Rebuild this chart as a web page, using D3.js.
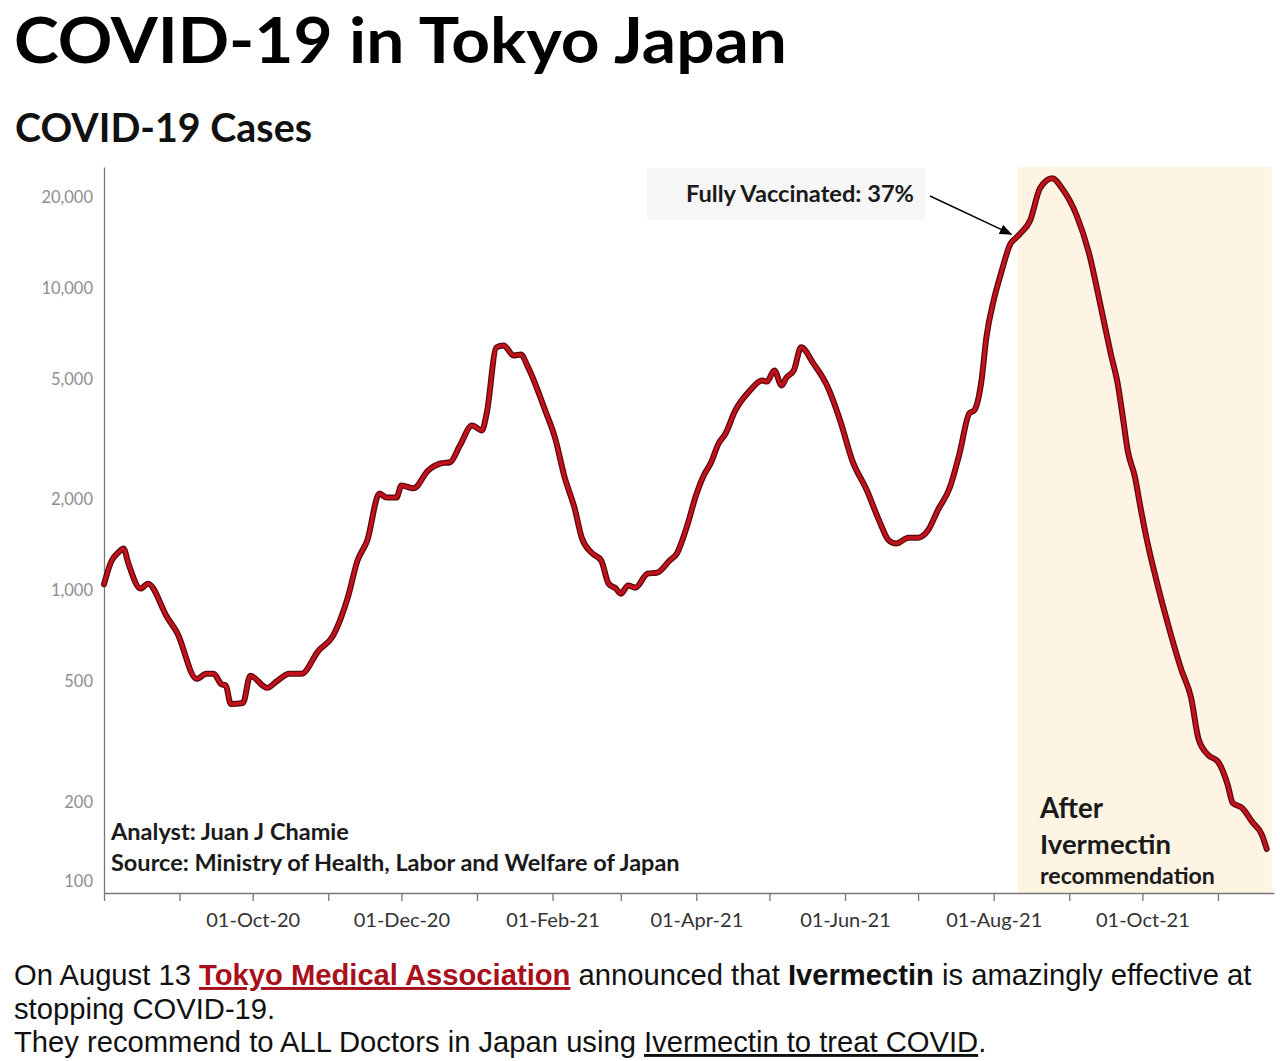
<!DOCTYPE html>
<html>
<head>
<meta charset="utf-8">
<title>COVID-19 in Tokyo Japan</title>
<script src="https://cdn.jsdelivr.net/npm/d3@7"></script>
<style>
    body { margin: 0; background: #fff; }
    svg { display: block; }
    .lato { font-family: Lato, "Noto Sans", sans-serif; }
    .arial { font-family: "Liberation Sans", Arial, sans-serif; }
</style>
</head>
<body>
<svg id="chart" width="1280" height="1061"></svg>
<script>
// 7-day average of new cases
var dates = [
    "2020-08-01","2020-08-04","2020-08-07","2020-08-09","2020-08-11","2020-08-16","2020-08-19","2020-08-27",
    "2020-08-31","2020-09-08","2020-09-12","2020-09-15","2020-09-18","2020-09-20","2020-09-22","2020-09-27",
    "2020-09-30","2020-10-07","2020-10-11","2020-10-16","2020-10-21","2020-10-28","2020-11-03","2020-11-09",
    "2020-11-13","2020-11-17","2020-11-22","2020-11-25","2020-11-29","2020-12-01","2020-12-06","2020-12-12",
    "2020-12-17","2020-12-21","2020-12-25","2020-12-30","2021-01-03","2021-01-05","2021-01-09","2021-01-12",
    "2021-01-16","2021-01-19","2021-01-22","2021-01-29","2021-02-02","2021-02-06","2021-02-10","2021-02-13",
    "2021-02-17","2021-02-21","2021-02-24","2021-02-27","2021-03-01","2021-03-04","2021-03-07","2021-03-12",
    "2021-03-16","2021-03-21","2021-03-24","2021-03-28","2021-04-01","2021-04-04","2021-04-07","2021-04-10",
    "2021-04-13","2021-04-17","2021-04-23","2021-04-28","2021-04-30","2021-05-03","2021-05-06","2021-05-08",
    "2021-05-11","2021-05-14","2021-05-19","2021-05-25","2021-05-30","2021-06-04","2021-06-10","2021-06-15",
    "2021-06-19","2021-06-22","2021-06-27","2021-07-01","2021-07-05","2021-07-09","2021-07-14","2021-07-18",
    "2021-07-22","2021-07-24","2021-07-27","2021-07-29","2021-08-01","2021-08-04","2021-08-08","2021-08-10",
    "2021-08-12","2021-08-16","2021-08-20","2021-08-25","2021-08-29","2021-09-04","2021-09-09","2021-09-14",
    "2021-09-18","2021-09-21","2021-09-23","2021-09-25","2021-09-28","2021-09-30","2021-10-03","2021-10-07",
    "2021-10-11","2021-10-17","2021-10-21","2021-10-24","2021-10-28","2021-11-01","2021-11-05","2021-11-07",
    "2021-11-11","2021-11-15","2021-11-19","2021-11-21"
];
var cases = [
    1050, 1250, 1340, 1380, 1230, 1016, 1055, 814,
    726, 511, 531, 531, 492, 485, 422, 425,
    523, 477, 503, 531, 531, 633, 710, 948,
    1257, 1465, 2095, 2032, 2032, 2228, 2180, 2497,
    2634, 2660, 3020, 3520, 3388, 3856, 6380, 6475,
    5998, 6040, 5475, 3945, 3212, 2367, 1883, 1497,
    1336, 1257, 1055, 1016, 977, 1040, 1023, 1138,
    1148, 1257, 1326, 1617, 2080, 2400, 2650, 3050,
    3311, 3945, 4592, 4955, 4917, 5350, 4774, 5074,
    5350, 6380, 5645, 4700, 3655, 2693, 2144, 1705,
    1465, 1431, 1497, 1497, 1580, 1841, 2193, 2844,
    3856, 3945, 4955, 6886, 9120, 11210, 14090, 14650,
    15210, 16800, 21430, 23130, 21430, 17450, 13160, 8650,
    6090, 4774, 3740, 2900, 2367, 1927, 1452, 1063,
    801, 547, 442, 324, 286, 272, 228, 199,
    191, 172, 156, 140
];

var xDomain = ["2020-08-01", "2021-11-24"];
var shadeDates = ["2021-08-11", "2021-11-23"];   // after Ivermectin recommendation
var yTicks = [100, 200, 500, 1000, 2000, 5000, 10000, 20000];
var xLabelDates = ["2020-10-01","2020-12-01","2021-02-01","2021-04-01","2021-06-01","2021-08-01","2021-10-01"];
var arrowDate = "2021-08-09";

var parse = d3.timeParse("%Y-%m-%d");
var data = dates.map(function(d, i) { return {date: parse(d), value: cases[i]}; });

var svg = d3.select("#chart");
var plotL = 104, plotR = 1274, plotT = 167, plotB = 893;

var x = d3.scaleTime().domain(xDomain.map(parse)).range([plotL, plotR]);
var y = d3.scaleLog().domain([100, 25200]).range([plotB, plotT]);

// fit a text element to a given width by changing its font size
function fit(sel, w) {
    var fs = parseFloat(sel.attr("font-size"));
    var len = sel.node().getComputedTextLength();
    sel.attr("font-size", (fs * w / len).toFixed(2));
    return sel;
}

// titles
svg.append("text").attr("class", "lato").attr("x", 14).attr("y", 63)
    .attr("font-size", 63).attr("font-weight", 700).attr("fill", "#000")
    .attr("textLength", 773).attr("lengthAdjust", "spacingAndGlyphs")
    .text("COVID-19 in Tokyo Japan");
svg.append("text").attr("class", "lato").attr("x", 15).attr("y", 142)
    .attr("font-size", 40).attr("font-weight", 700).attr("fill", "#111")
    .attr("textLength", 297).attr("lengthAdjust", "spacingAndGlyphs")
    .text("COVID-19 Cases");

// shaded period
svg.append("rect")
    .attr("x", x(parse(shadeDates[0])))
    .attr("y", plotT)
    .attr("width", x(parse(shadeDates[1])) - x(parse(shadeDates[0])))
    .attr("height", plotB - plotT)
    .attr("fill", "#fdf4e3");

// y axis
var yAxis = svg.append("g")
    .attr("transform", "translate(" + plotL + ",0)")
    .call(d3.axisLeft(y).tickValues(yTicks).tickFormat(d3.format(",")).tickSize(0).tickSizeOuter(0).tickPadding(11));
yAxis.select(".domain").attr("stroke", "#777").attr("stroke-width", 1.3);
yAxis.selectAll("text")
    .attr("class", "lato")
    .attr("font-size", 16.5)
    .attr("fill", "#8e8e8e")
    .attr("dy", function(d) { return d === 100 ? "-0.37em" : "0.32em"; });

// x axis
var labelSet = xLabelDates.map(function(d) { return +parse(d); });
var fmt = d3.timeFormat("%d-%b-%y");
var xAxis = svg.append("g")
    .attr("transform", "translate(0," + plotB + ")")
    .call(d3.axisBottom(x).ticks(d3.timeMonth.every(1))
        .tickFormat(function(d) { return labelSet.indexOf(+d) >= 0 ? fmt(d) : ""; })
        .tickSize(8).tickSizeOuter(0).tickPadding(12));
xAxis.select(".domain").attr("stroke", "#777").attr("stroke-width", 1.3);
xAxis.selectAll(".tick line").attr("stroke", "#777").attr("stroke-width", 1.3);
xAxis.selectAll("text")
    .attr("class", "lato")
    .attr("font-size", 20)
    .attr("fill", "#333");

// the case line
var line = d3.line()
    .curve(d3.curveMonotoneX)
    .x(function(d) { return x(d.date); })
    .y(function(d) { return y(d.value); });

svg.append("path").datum(data)
    .attr("d", line)
    .attr("fill", "none")
    .attr("stroke", "#5c0a0e")
    .attr("stroke-width", 6)
    .attr("stroke-linejoin", "round")
    .attr("stroke-linecap", "round");
svg.append("path").datum(data)
    .attr("d", line)
    .attr("fill", "none")
    .attr("stroke", "#c4121c")
    .attr("stroke-width", 3.4)
    .attr("stroke-linejoin", "round")
    .attr("stroke-linecap", "round");

// vaccination annotation
svg.append("rect")
    .attr("x", 647).attr("y", 168).attr("width", 278).attr("height", 52)
    .attr("fill", "#f6f6f6");
fit(svg.append("text").attr("class", "lato").attr("x", 686).attr("y", 202)
    .attr("font-size", 20).attr("font-weight", 700).attr("fill", "#1a1a1a")
    .text("Fully Vaccinated: 37%"), 228);

svg.append("defs").append("marker")
    .attr("id", "arrow")
    .attr("viewBox", "0 0 10 10")
    .attr("refX", 9).attr("refY", 5)
    .attr("markerWidth", 9).attr("markerHeight", 9)
    .attr("orient", "auto")
    .append("path").attr("d", "M0,1 L10,5 L0,9 Z").attr("fill", "#000");

var ad = parse(arrowDate);
var ay = y(data.find(function(d) { return +d.date >= +ad; }).value) - 4;
svg.append("line")
    .attr("x1", 930).attr("y1", 196)
    .attr("x2", x(ad) - 2).attr("y2", ay)
    .attr("stroke", "#000").attr("stroke-width", 1.4)
    .attr("marker-end", "url(#arrow)");

// notes inside the plot
fit(svg.append("text").attr("class", "lato").attr("x", 111).attr("y", 840)
    .attr("font-size", 20).attr("font-weight", 700).attr("fill", "#1a1a1a")
    .text("Analyst: Juan J Chamie"), 238);
fit(svg.append("text").attr("class", "lato").attr("x", 111).attr("y", 871)
    .attr("font-size", 20).attr("font-weight", 700).attr("fill", "#1a1a1a")
    .text("Source: Ministry of Health, Labor and Welfare of Japan"), 569);

fit(svg.append("text").attr("class", "lato").attr("x", 1040).attr("y", 818)
    .attr("font-size", 26).attr("font-weight", 700).attr("fill", "#1a1a1a")
    .text("After"), 63);
fit(svg.append("text").attr("class", "lato").attr("x", 1040).attr("y", 854)
    .attr("font-size", 26).attr("font-weight", 700).attr("fill", "#1a1a1a")
    .text("Ivermectin"), 131);
fit(svg.append("text").attr("class", "lato").attr("x", 1040).attr("y", 884)
    .attr("font-size", 20).attr("font-weight", 700).attr("fill", "#1a1a1a")
    .text("recommendation"), 175);

// paragraph under the chart
var para = svg.append("g").attr("class", "arial").attr("fill", "#111");
var l1 = para.append("text").attr("x", 14).attr("y", 985).attr("font-size", 26);
l1.append("tspan").text("On August 13 ");
l1.append("tspan").attr("font-weight", 700).attr("fill", "#a8101c")
    .attr("text-decoration", "underline").text("Tokyo Medical Association");
l1.append("tspan").text(" announced that ");
l1.append("tspan").attr("font-weight", 700).text("Ivermectin");
l1.append("tspan").text(" is amazingly effective at");

var fs = 26 * 1238 / l1.node().getComputedTextLength();
l1.attr("font-size", fs.toFixed(2));

para.append("text").attr("x", 14).attr("y", 1019).attr("font-size", fs.toFixed(2))
    .text("stopping COVID-19.");
var l3 = para.append("text").attr("x", 14).attr("y", 1052).attr("font-size", fs.toFixed(2));
l3.append("tspan").text("They recommend to ALL Doctors in Japan using ");
l3.append("tspan").attr("text-decoration", "underline").text("Ivermectin to treat COVID");
l3.append("tspan").text(".");
</script>
</body>
</html>
